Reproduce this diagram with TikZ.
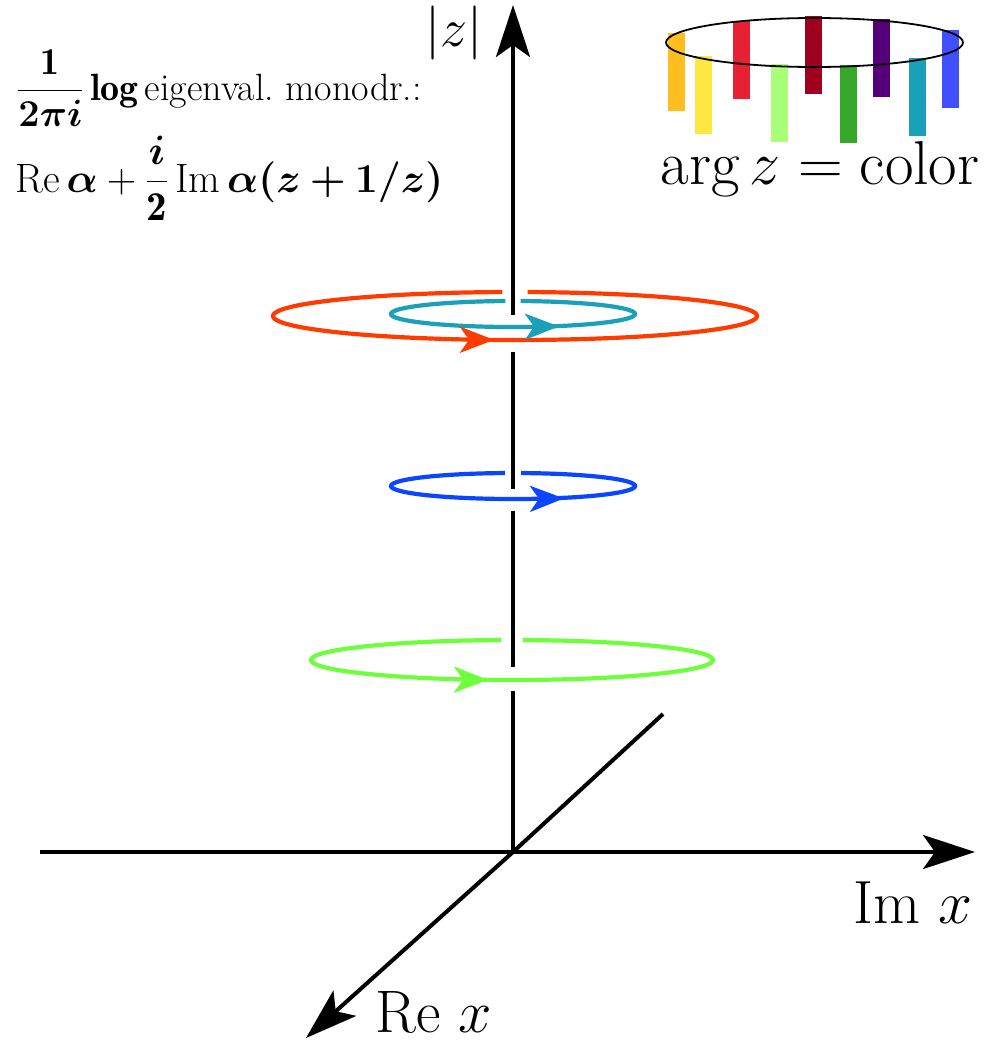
\documentclass[tikz,border=0pt]{standalone}
\usepackage{fix-cm}
\usepackage{amsmath,bm}
\usepackage{fontspec}
\usetikzlibrary{arrows.meta}
\definecolor{cred}{RGB}{255,59,0}
\definecolor{cteal}{RGB}{26,160,184}
\definecolor{cblue}{RGB}{10,70,255}
\definecolor{cgreen}{RGB}{110,255,60}
\definecolor{bA}{RGB}{255,190,32}
\definecolor{bB}{RGB}{255,230,64}
\definecolor{bC}{RGB}{232,32,52}
\definecolor{bD}{RGB}{170,255,120}
\definecolor{bE}{RGB}{160,0,32}
\definecolor{bF}{RGB}{56,168,42}
\definecolor{bG}{RGB}{85,0,122}
\definecolor{bH}{RGB}{26,160,184}
\definecolor{bI}{RGB}{64,80,255}
\tikzset{
  axisline/.style={line width=4pt,black},
  axisarrow/.style={-{Stealth[length=52pt,width=34pt,inset=12pt]}},
  ringline/.style={line width=4.2pt},
  ringarrow/.style={-{Stealth[length=34pt,width=26pt,inset=9pt]}},
  lbl/.style={inner sep=0pt}
}
\newcommand\monoring[6]{\draw[ringline,#1] plot[domain={270-#6}:{-90+#6},samples=240,smooth] ({#2+#4*cos(\x)},{#3+#5*sin(\x)});}
\begin{document}
\begin{tikzpicture}[x=1pt,y=-1pt]
\useasboundingbox (0,0) rectangle (988,1041);
% axes
\coordinate (O) at (513,852);
\coordinate (ztip) at (513,5);
\coordinate (imL) at (40,852);
\coordinate (imR) at (975,852);
\coordinate (reT) at (663,714);
\coordinate (reB) at (306,1038);
\draw[axisline] (imL) -- (O);
\draw[axisline,axisarrow] (O) -- (imR);
\draw[axisline] (reT) -- (O);
\draw[axisline,axisarrow] (O) -- (reB);
\draw[axisline,axisarrow] (513,315) -- (ztip);
\draw[axisline] (513,352) -- (513,489);
\draw[axisline] (513,511) -- (513,667);
\draw[axisline] (513,691) -- (O);
% rings
\monoring{cred}{515}{316}{242}{24}{3}
\monoring{cteal}{513}{314}{122}{13}{3.6}
\monoring{cblue}{513}{486}{122}{13}{3.8}
\monoring{cgreen}{512}{660}{201}{20}{3}
\draw[ringline,cred,ringarrow] (470,339.8) -- (494,339.9);
\draw[ringline,cteal,ringarrow] (535,326.6) -- (559,326.4);
\draw[ringline,cblue,ringarrow] (540,498.7) -- (564,498.4);
\draw[ringline,cgreen,ringarrow] (464,679.7) -- (488,679.9);
% legend bars
\fill[bA] (668,33) rectangle (685,111);
\fill[bB] (695,56) rectangle (712,134);
\fill[bC] (733,21) rectangle (750,99);
\fill[bD] (771,64) rectangle (788,142);
\fill[bE] (805,16) rectangle (822,94);
\fill[bF] (840,65) rectangle (857,143);
\fill[bG] (873,19) rectangle (890,97);
\fill[bH] (909,58) rectangle (926,136);
\fill[bI] (942,30) rectangle (959,108);
\draw[line width=1.8pt] (814.5,42.5) ellipse [x radius=148.5, y radius=24.5];
% labels
\node[lbl,anchor=base] (argc) at (820,184) {\fontsize{62}{68}\selectfont $\arg z = \text{color}$};
\node[lbl,anchor=base west] (imx) at (853,923) {\fontsize{61}{66}\selectfont Im $x$};
\node[lbl,anchor=base west] (rex) at (375,1032) {\fontsize{60}{66}\selectfont Re $x$};
\node[lbl,anchor=base] (absz) at (454,47) {\fontsize{54}{60}\selectfont $|z|$};
\node[lbl,anchor=base west] (f1) at (17,100) {\fontsize{38}{42}\selectfont $\dfrac{\mathbf{1}}{\bm{2\pi i}}\,\mathbf{log}$\,eigenval.\ monodr.:};
\node[lbl,anchor=base west] (f2) at (15,192) {\fontsize{41}{45}\selectfont $\mathrm{Re}\,\bm{\alpha}+\dfrac{\bm{i}}{\mathbf{2}}\,\mathrm{Im}\,\bm{\alpha(z+1/z)}$};
\end{tikzpicture}
\end{document}
